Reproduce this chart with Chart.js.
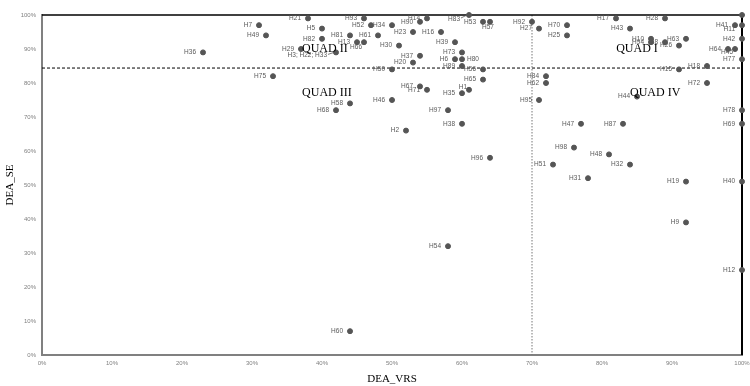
<!DOCTYPE html>
<html>
<head>
<meta charset="utf-8">
<script src="https://cdn.jsdelivr.net/npm/chart.js@4.4.1/dist/chart.umd.min.js"></script>
<style>
  html, body { margin: 0; padding: 0; background: #fff; }
  #wrap { width: 750px; height: 386px; }
</style>
</head>
<body>
<div id="wrap"><canvas id="quadChart"></canvas></div>
<script>
// hospitals, DEA VRS efficiency (x) and DEA scale efficiency (y), in %
const hospitals = ['H21', 'H7', 'H49', 'H5', 'H82', 'H29', 'H3; H22; H33', 'H93', 'H52', 'H34',
  'H81', 'H61', 'H13', 'H66', 'H30', 'H14', 'H90', 'H83', 'H53', 'H57',
  'H23', 'H16', 'H39', 'H37', 'H20', 'H73', 'H6', 'H80', 'H89', 'H50',
  'H56', 'H65', 'H75', 'H67', 'H71', 'H1', 'H35', 'H46', 'H58', 'H68',
  'H97', 'H38', 'H2', 'H96', 'H54', 'H60', 'H36', 'H92', 'H27', 'H70',
  'H25', 'H17', 'H28', 'H43', 'H41', 'H11', 'H42', 'H10', 'H94', 'H8',
  'H26', 'H63', 'H64', 'H45', 'H77', 'H18', 'H15', 'H84', 'H62', 'H72',
  'H95', 'H44', 'H78', 'H69', 'H47', 'H87', 'H98', 'H48', 'H51', 'H32',
  'H31', 'H19', 'H40', 'H9', 'H12', ''];
const deaVrs = [38, 31, 32, 40, 40, 37, 42, 46, 47, 50,
  44, 48, 45, 46, 51, 55, 54, 61, 63, 64,
  53, 57, 59, 54, 53, 60, 59, 60, 60, 50,
  63, 63, 33, 54, 55, 61, 60, 50, 44, 42,
  58, 60, 52, 64, 58, 44, 23, 70, 71, 75,
  75, 82, 89, 84, 99, 100, 100, 87, 87, 89,
  91, 92, 98, 99, 100, 95, 91, 72, 72, 95,
  71, 85, 100, 100, 77, 83, 76, 81, 73, 84,
  78, 92, 100, 92, 100, 100];
const deaSe = [99, 97, 94, 96, 93, 90, 89, 99, 97, 97,
  94, 94, 92, 92, 91, 99, 98, 100, 98, 98,
  95, 95, 92, 88, 86, 89, 87, 87, 85, 84,
  84, 81, 82, 79, 78, 78, 77, 75, 74, 72,
  72, 68, 66, 58, 32, 7, 89, 98, 96, 97,
  94, 99, 99, 96, 97, 97, 93, 93, 92, 92,
  91, 93, 90, 90, 87, 85, 84, 82, 80, 80,
  75, 76, 72, 68, 68, 68, 61, 59, 56, 56,
  52, 51, 51, 39, 25, 100];
const xTicks = [0, 10, 20, 30, 40, 50, 60, 70, 80, 90, 100];
const yTicks = [0, 10, 20, 30, 40, 50, 60, 70, 80, 90, 100];
// cut-off lines between the quadrants
const cutVrs = 70;
const cutSe = 84.4;

// a few labels that Excel moved away from the default left position
const labelShift = {
  'H3; H22; H33': { dx: -9, dy: 3, leader: true },
  'H83': { dx: -9, dy: 4, leader: true },
  'H57': { dx: -2, dy: 5, align: 'center' },
  'H11': { dx: -7, dy: 4 },
  'H45': { dx: -2, dy: 3 },
  'H1': { dx: -2, dy: -3 },
  'H66': { dx: -2, dy: 5 },
  'H80': { dx: 5, dy: 0, align: 'left' }
};

const quadText = [
  { text: 'QUAD I', x: 85, y: 90 },
  { text: 'QUAD II', x: 40.4, y: 90 },
  { text: 'QUAD III', x: 40.7, y: 77.2 },
  { text: 'QUAD IV', x: 87.6, y: 77 }
];

const quadPlugin = {
  id: 'quadPlugin',
  beforeDatasetsDraw(chart) {
    const { ctx, chartArea: a, scales: { x, y } } = chart;
    ctx.save();
    // mean lines
    ctx.strokeStyle = '#000';
    ctx.lineWidth = 1;
    ctx.setLineDash([3, 2]);
    const hy = y.getPixelForValue(cutSe);
    ctx.beginPath(); ctx.moveTo(a.left, hy); ctx.lineTo(a.right, hy); ctx.stroke();
    ctx.strokeStyle = '#777';
    ctx.setLineDash([1.5, 1.5]);
    const vx = x.getPixelForValue(cutVrs);
    ctx.beginPath(); ctx.moveTo(vx, a.top); ctx.lineTo(vx, a.bottom); ctx.stroke();
    // frame at 100%
    ctx.setLineDash([]);
    ctx.strokeStyle = '#000';
    ctx.lineWidth = 1.5;
    ctx.beginPath(); ctx.moveTo(a.left, a.top); ctx.lineTo(a.right, a.top); ctx.stroke();
    ctx.lineWidth = 2;
    ctx.beginPath(); ctx.moveTo(a.right, a.top); ctx.lineTo(a.right, a.bottom); ctx.stroke();
    ctx.restore();
  },
  afterDatasetsDraw(chart) {
    const { ctx, scales: { x, y } } = chart;
    const pts = chart.getDatasetMeta(0).data;
    ctx.save();
    ctx.font = '6.5px "Liberation Sans", Arial, sans-serif';
    ctx.fillStyle = '#595959';
    ctx.strokeStyle = '#595959';
    ctx.lineWidth = 0.8;
    ctx.textBaseline = 'middle';
    pts.forEach((p, i) => {
      const name = hospitals[i];
      if (!name) return;
      const s = labelShift[name] || { dx: -7, dy: 0 };
      ctx.textAlign = s.align || 'right';
      ctx.fillText(name, p.x + s.dx, p.y + s.dy);
      if (s.leader) {
        ctx.beginPath();
        ctx.moveTo(p.x + s.dx + 1, p.y + s.dy - 1);
        ctx.lineTo(p.x - 2, p.y);
        ctx.stroke();
      }
    });
    ctx.font = '12px "Liberation Serif", "Times New Roman", serif';
    ctx.fillStyle = '#000';
    ctx.textAlign = 'center';
    quadText.forEach(q => {
      ctx.fillText(q.text, x.getPixelForValue(q.x), y.getPixelForValue(q.y));
    });
    ctx.restore();
  }
};

const tickFont = { family: '"Liberation Sans", Arial, sans-serif', size: 6 };
const titleFont = { family: '"Liberation Serif", "Times New Roman", serif', size: 11 };

new Chart(document.getElementById('quadChart'), {
  type: 'scatter',
  data: {
    datasets: [{
      label: 'DEA',
      data: hospitals.map((h, i) => ({ x: deaVrs[i], y: deaSe[i] })),
      backgroundColor: '#555',
      borderColor: '#555',
      pointRadius: 2.5,
      pointHoverRadius: 2.5,
      clip: false
    }]
  },
  options: {
    responsive: true,
    maintainAspectRatio: false,
    animation: false,
    layout: { padding: { top: 15, right: 8, left: 0, bottom: 0 } },
    plugins: {
      legend: { display: false },
      tooltip: { enabled: false }
    },
    scales: {
      x: {
        type: 'linear',
        min: 0, max: 100,
        afterBuildTicks: s => { s.ticks = xTicks.map(v => ({ value: v })); },
        afterFit: s => { s.height = 31; s.paddingLeft = 0; s.paddingRight = 0; },
        grid: { display: false, drawTicks: false },
        border: { display: true, color: '#808080', width: 2 },
        ticks: { font: tickFont, color: '#808080', padding: 5, maxRotation: 0, callback: v => v + '%' },
        title: { display: true, text: 'DEA_VRS', font: titleFont, color: '#000', padding: 0 }
      },
      y: {
        type: 'linear',
        min: 0, max: 100,
        afterBuildTicks: s => { s.ticks = yTicks.map(v => ({ value: v })); },
        afterFit: s => { s.width = 42; },
        grid: { display: false, drawTicks: false },
        border: { display: true, color: '#808080', width: 2 },
        ticks: { font: tickFont, color: '#808080', padding: 6, callback: v => v + '%' },
        title: { display: true, text: 'DEA_SE', font: titleFont, color: '#000', padding: { top: 4, bottom: 0 } }
      }
    }
  },
  plugins: [quadPlugin]
});
</script>
</body>
</html>
